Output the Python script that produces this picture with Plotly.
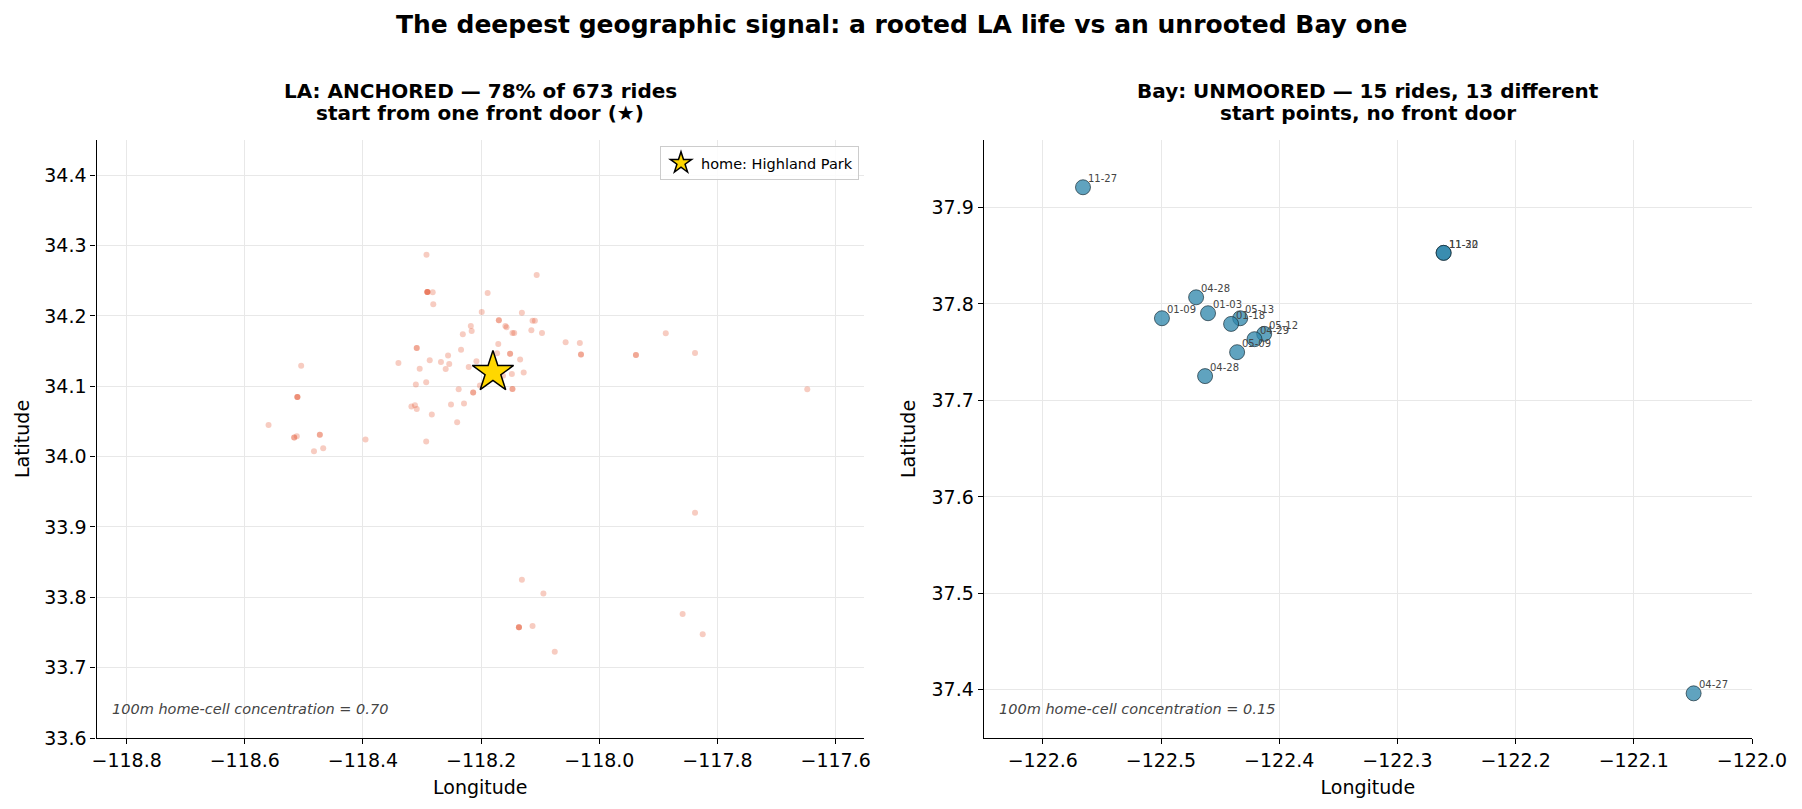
import plotly.graph_objects as go

W, H = 1802, 809

# ---------------- data ----------------
la_lon = [-118.2925, -118.291, -118.282, -118.281, -118.106, -118.189, -118.199, -118.131,
          -118.170, -118.159, -118.157, -118.113, -118.109, -118.2175, -118.216, -118.231,
          -118.147, -118.144, -118.115, -118.097, -118.309, -118.234, -118.171, -118.057,
          -118.033, -118.031, -118.173, -118.151, -118.134, -118.340, -118.287, -118.268,
          -118.256, -118.254, -118.304, -118.260, -118.221, -118.208, -118.128, -118.148,
          -118.163, -118.5046, -118.511, -118.3105, -118.293, -118.238, -118.202, -118.147,
          -118.2135, -118.251, -118.229, -118.318, -118.312, -118.309, -118.2835, -118.2406,
          -118.5598, -118.5164, -118.512, -118.473, -118.3957, -118.293, -118.4829, -118.4673,
          -117.838, -118.131, -118.0946, -118.136, -118.113, -118.0754, -117.859, -117.825,
          -117.8875, -117.938, -117.838, -117.648]
la_lat = [34.287, 34.234, 34.2335, 34.2165, 34.258, 34.2326, 34.2056, 34.2046,
          34.1938, 34.1857, 34.184, 34.193, 34.193, 34.1857, 34.1786, 34.174,
          34.1758, 34.1758, 34.1795, 34.1758, 34.1545, 34.152, 34.160, 34.1625,
          34.1616, 34.145, 34.147, 34.146, 34.138, 34.133, 34.137, 34.1346,
          34.1436, 34.1317, 34.125, 34.1246, 34.1275, 34.1355, 34.1194, 34.1175,
          34.115, 34.129, 34.0848, 34.1024, 34.1057, 34.0957, 34.101, 34.0962,
          34.091, 34.074, 34.0754, 34.0711, 34.073, 34.0678, 34.0598, 34.0489,
          34.045, 34.027, 34.029, 34.0309, 34.0242, 34.0214, 34.0077, 34.012,
          33.920, 33.8248, 33.8055, 33.7574, 33.7593, 33.7226, 33.7763, 33.7475,
          34.1753, 34.1445, 34.1473, 34.0957]
la_rides = [1, 4, 1, 1, 1, 1, 1, 1,
            2, 1, 1, 1, 1, 1, 1, 1,
            1, 1, 1, 1, 2, 1, 1, 1,
            1, 2, 1, 2, 1, 1, 1, 1,
            1, 1, 1, 1, 1, 1, 1, 1,
            1, 1, 3, 1, 1, 1, 1, 2,
            2, 1, 1, 1, 1, 1, 1, 1,
            1, 2, 1, 2, 1, 1, 1, 1,
            1, 1, 1, 3, 1, 1, 1, 1,
            1, 2, 1, 1]

home_lon = [-118.18]
home_lat = [34.12]
home_name = "home: Highland Park"

bay_date = ["04-28", "01-09", "01-03", "05-13", "01-18", "05-12", "04-29", "05-09",
            "04-28", "11-27", "11-30", "11-22", "04-27"]
bay_lon = [-122.4703, -122.4992, -122.4602, -122.4330, -122.4407, -122.4127, -122.4209,
           -122.4356, -122.4627, -122.566, -122.2609, -122.2609, -122.0494]
bay_lat = [37.8069, 37.7852, 37.7904, 37.7852, 37.7793, 37.769, 37.7635,
           37.750, 37.7252, 37.921, 37.853, 37.853, 37.3963]

suptitle = "The deepest geographic signal: a rooted LA life vs an unrooted Bay one"
la_title = ["LA: ANCHORED — 78% of 673 rides", "start from one front door (★)"]
bay_title = ["Bay: UNMOORED — 15 rides, 13 different", "start points, no front door"]
la_note = "100m home-cell concentration = 0.70"
bay_note = "100m home-cell concentration = 0.15"

# ---------------- layout helpers ----------------
def fx(p):
    return p / W

def fy(p):
    return 1 - p / H

L1, R1 = 96.5, 864.0
L2, R2 = 983.7, 1752.0
TOP, BOT = 140.0, 738.0
FONT = "DejaVu Sans"

# one marker per ride so overlapping rides darken like the original
la_x = [lo for lo, n in zip(la_lon, la_rides) for _ in range(n)]
la_y = [la for la, n in zip(la_lat, la_rides) for _ in range(n)]

fig = go.Figure()
fig.add_trace(go.Scatter(
    x=la_x, y=la_y, mode="markers", showlegend=False, hoverinfo="skip",
    marker=dict(size=6, color="rgba(230,85,50,0.3)", line=dict(width=0)),
    xaxis="x", yaxis="y"))
fig.add_trace(go.Scatter(
    x=home_lon, y=home_lat, mode="markers", name=home_name,
    marker=dict(symbol="star", size=31, color="#FFD700",
                line=dict(color="black", width=1.5)),
    xaxis="x", yaxis="y"))
fig.add_trace(go.Scatter(
    x=bay_lon, y=bay_lat, mode="markers", showlegend=False, hoverinfo="skip",
    marker=dict(size=15, color="rgba(46,134,171,0.76)",
                line=dict(color="rgba(20,40,50,0.85)", width=0.8)),
    xaxis="x2", yaxis="y2"))

axis_common = dict(
    showline=True, linecolor="black", linewidth=1.2,
    ticks="outside", ticklen=5, tickwidth=1.2, tickcolor="black",
    showgrid=True, gridcolor="#e8e8e8", gridwidth=0.8, zeroline=False,
    tickfont=dict(family=FONT, size=19, color="black"),
    automargin=False, mirror=False, tickformat=".1f",
)

annotations = [
    dict(text=f"<b>{suptitle}</b>", x=0.5, y=fy(24), xref="paper", yref="paper",
         xanchor="center", yanchor="middle", showarrow=False,
         font=dict(family=FONT, size=25, color="black")),
]
for (l, r), lines in (((L1, R1), la_title), ((L2, R2), bay_title)):
    for ypix, line in zip((91, 113), lines):
        annotations.append(dict(
            text=f"<b>{line}</b>", x=fx((l + r) / 2), y=fy(ypix), xref="paper", yref="paper",
            xanchor="center", yanchor="middle", showarrow=False,
            font=dict(family=FONT, size=20, color="black")))
for l, note in ((L1, la_note), (L2, bay_note)):
    annotations.append(dict(
        text=f"<i>{note}</i>", x=fx(l + 13), y=fy(709), xref="paper", yref="paper",
        xanchor="left", yanchor="middle", showarrow=False,
        font=dict(family=FONT, size=14.5, color="#444444")))
for d, lo, la in zip(bay_date, bay_lon, bay_lat):
    annotations.append(dict(
        text=d, x=lo, y=la, xref="x2", yref="y2", xanchor="left", yanchor="bottom",
        xshift=3, yshift=1, showarrow=False,
        font=dict(family=FONT, size=10, color="#444444")))

fig.update_layout(
    width=W, height=H, template="none",
    paper_bgcolor="white", plot_bgcolor="white",
    margin=dict(l=0, r=0, t=0, b=0),
    font=dict(family=FONT, color="black"),
    xaxis=dict(domain=[fx(L1), fx(R1)], range=[-118.851, -117.552], tick0=-118.8, dtick=0.2,
               anchor="y", title=dict(text="Longitude", standoff=10,
                                       font=dict(family=FONT, size=19)), **axis_common),
    yaxis=dict(domain=[fy(BOT), fy(TOP)], range=[33.6, 34.45], tick0=33.6, dtick=0.1,
               anchor="x", title=dict(text="Latitude", standoff=9,
                                       font=dict(family=FONT, size=19)), **axis_common),
    xaxis2=dict(domain=[fx(L2), fx(R2)], range=[-122.65, -122.0], tick0=-122.6, dtick=0.1,
                anchor="y2", title=dict(text="Longitude", standoff=10,
                                         font=dict(family=FONT, size=19)), **axis_common),
    yaxis2=dict(domain=[fy(BOT), fy(TOP)], range=[37.35, 37.97], tick0=37.4, dtick=0.1,
                anchor="x2", title=dict(text="Latitude", standoff=10,
                                         font=dict(family=FONT, size=19)), **axis_common),
    legend=dict(x=fx(859), y=fy(146), xanchor="right", yanchor="top",
                bgcolor="rgba(255,255,255,0.85)", bordercolor="#cccccc", borderwidth=1,
                font=dict(family=FONT, size=14.5, color="black"),
                itemsizing="trace"),
    annotations=annotations,
    showlegend=True,
)

fig.write_html("out.html")
